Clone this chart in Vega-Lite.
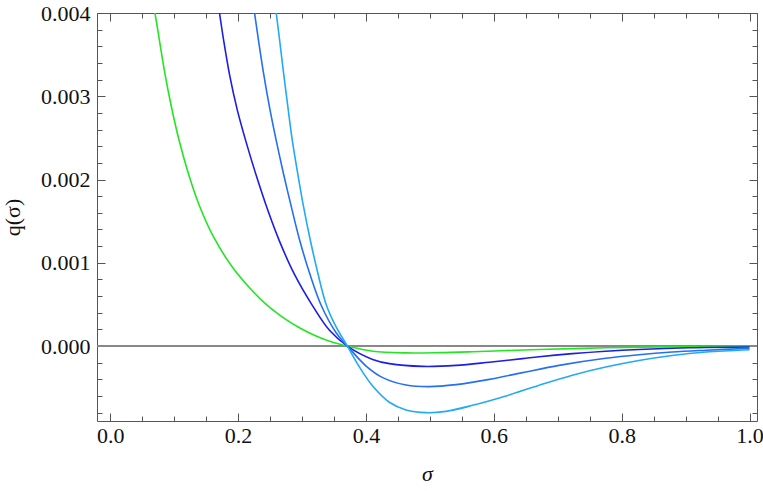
{
  "$schema": "https://vega.github.io/schema/vega-lite/v6.json",
  "width": 660,
  "height": 408,
  "autosize": {"type": "none"},
  "padding": {"left": 97, "top": 13, "right": 6, "bottom": 70},
  "background": "white",
  "config": {
    "view": {"stroke": null},
    "axis": {
      "domainColor": "#555555",
      "tickColor": "#555555",
      "labelFont": "Liberation Serif, Times New Roman, Times, serif",
      "labelFontSize": 22,
      "labelColor": "#111111",
      "titleFont": "Liberation Serif, Times New Roman, Times, serif",
      "titleFontSize": 22,
      "titleFontWeight": "normal",
      "titleColor": "#111111",
      "grid": false,
      "labelOverlap": false,
      "labelFlush": false
    }
  },
  "datasets": {
    "curves": [
      {"s": "a", "sigma": 0.063, "q": 0.00427},
      {"s": "a", "sigma": 0.070, "q": 0.00400},
      {"s": "a", "sigma": 0.0773, "q": 0.00366},
      {"s": "a", "sigma": 0.0852, "q": 0.00329},
      {"s": "a", "sigma": 0.0956, "q": 0.00288},
      {"s": "a", "sigma": 0.1075, "q": 0.00248},
      {"s": "a", "sigma": 0.1216, "q": 0.00209},
      {"s": "a", "sigma": 0.1388, "q": 0.00170},
      {"s": "a", "sigma": 0.1617, "q": 0.00131},
      {"s": "a", "sigma": 0.1919, "q": 0.00094},
      {"s": "a", "sigma": 0.218, "q": 0.00070},
      {"s": "a", "sigma": 0.244, "q": 0.00050},
      {"s": "a", "sigma": 0.270, "q": 0.000345},
      {"s": "a", "sigma": 0.296, "q": 0.00022},
      {"s": "a", "sigma": 0.322, "q": 0.00012},
      {"s": "a", "sigma": 0.348, "q": 0.000045},
      {"s": "a", "sigma": 0.371, "q": 0},
      {"s": "a", "sigma": 0.4106, "q": -0.000062},
      {"s": "a", "sigma": 0.4628, "q": -0.000082},
      {"s": "a", "sigma": 0.5148, "q": -0.000079},
      {"s": "a", "sigma": 0.567, "q": -0.000068},
      {"s": "a", "sigma": 0.619, "q": -0.000054},
      {"s": "a", "sigma": 0.671, "q": -0.000041},
      {"s": "a", "sigma": 0.775, "q": -0.000021},
      {"s": "a", "sigma": 0.879, "q": -0.000008},
      {"s": "a", "sigma": 1.0, "q": -0.000002},

      {"s": "b", "sigma": 0.163, "q": 0.00440},
      {"s": "b", "sigma": 0.171, "q": 0.00400},
      {"s": "b", "sigma": 0.1773, "q": 0.00368},
      {"s": "b", "sigma": 0.1867, "q": 0.00326},
      {"s": "b", "sigma": 0.1987, "q": 0.00284},
      {"s": "b", "sigma": 0.2130, "q": 0.00244},
      {"s": "b", "sigma": 0.2284, "q": 0.00205},
      {"s": "b", "sigma": 0.2466, "q": 0.00163},
      {"s": "b", "sigma": 0.2648, "q": 0.00126},
      {"s": "b", "sigma": 0.2883, "q": 0.00086},
      {"s": "b", "sigma": 0.3169, "q": 0.00048},
      {"s": "b", "sigma": 0.343, "q": 0.00019},
      {"s": "b", "sigma": 0.371, "q": 0},
      {"s": "b", "sigma": 0.4106, "q": -0.00016},
      {"s": "b", "sigma": 0.4367, "q": -0.000211},
      {"s": "b", "sigma": 0.4888, "q": -0.000244},
      {"s": "b", "sigma": 0.541, "q": -0.000232},
      {"s": "b", "sigma": 0.593, "q": -0.000194},
      {"s": "b", "sigma": 0.645, "q": -0.000151},
      {"s": "b", "sigma": 0.671, "q": -0.000128},
      {"s": "b", "sigma": 0.723, "q": -0.000091},
      {"s": "b", "sigma": 0.775, "q": -0.000062},
      {"s": "b", "sigma": 0.827, "q": -0.000041},
      {"s": "b", "sigma": 0.905, "q": -0.000021},
      {"s": "b", "sigma": 1.0, "q": -0.000012},

      {"s": "c", "sigma": 0.219, "q": 0.00435},
      {"s": "c", "sigma": 0.2258, "q": 0.00400},
      {"s": "c", "sigma": 0.2320, "q": 0.00367},
      {"s": "c", "sigma": 0.2398, "q": 0.00328},
      {"s": "c", "sigma": 0.2492, "q": 0.00287},
      {"s": "c", "sigma": 0.2597, "q": 0.00247},
      {"s": "c", "sigma": 0.2711, "q": 0.00207},
      {"s": "c", "sigma": 0.2831, "q": 0.00168},
      {"s": "c", "sigma": 0.2961, "q": 0.00128},
      {"s": "c", "sigma": 0.3117, "q": 0.00088},
      {"s": "c", "sigma": 0.3300, "q": 0.00049},
      {"s": "c", "sigma": 0.3534, "q": 0.00016},
      {"s": "c", "sigma": 0.371, "q": 0},
      {"s": "c", "sigma": 0.4003, "q": -0.00024},
      {"s": "c", "sigma": 0.4263, "q": -0.000379},
      {"s": "c", "sigma": 0.4628, "q": -0.000468},
      {"s": "c", "sigma": 0.4992, "q": -0.000487},
      {"s": "c", "sigma": 0.541, "q": -0.000463},
      {"s": "c", "sigma": 0.593, "q": -0.000400},
      {"s": "c", "sigma": 0.645, "q": -0.000319},
      {"s": "c", "sigma": 0.702, "q": -0.000232},
      {"s": "c", "sigma": 0.775, "q": -0.000147},
      {"s": "c", "sigma": 0.827, "q": -0.000104},
      {"s": "c", "sigma": 0.879, "q": -0.000072},
      {"s": "c", "sigma": 0.932, "q": -0.000050},
      {"s": "c", "sigma": 1.0, "q": -0.000026},

      {"s": "d", "sigma": 0.255, "q": 0.00430},
      {"s": "d", "sigma": 0.2597, "q": 0.00400},
      {"s": "d", "sigma": 0.2651, "q": 0.00367},
      {"s": "d", "sigma": 0.2712, "q": 0.00328},
      {"s": "d", "sigma": 0.2778, "q": 0.00288},
      {"s": "d", "sigma": 0.2847, "q": 0.00248},
      {"s": "d", "sigma": 0.2934, "q": 0.00207},
      {"s": "d", "sigma": 0.3023, "q": 0.00168},
      {"s": "d", "sigma": 0.3128, "q": 0.00128},
      {"s": "d", "sigma": 0.3247, "q": 0.00088},
      {"s": "d", "sigma": 0.3378, "q": 0.00050},
      {"s": "d", "sigma": 0.3534, "q": 0.00023},
      {"s": "d", "sigma": 0.371, "q": 0},
      {"s": "d", "sigma": 0.3898, "q": -0.00025},
      {"s": "d", "sigma": 0.4106, "q": -0.00048},
      {"s": "d", "sigma": 0.4367, "q": -0.000675},
      {"s": "d", "sigma": 0.4628, "q": -0.000768},
      {"s": "d", "sigma": 0.494, "q": -0.00080},
      {"s": "d", "sigma": 0.525, "q": -0.000784},
      {"s": "d", "sigma": 0.567, "q": -0.000712},
      {"s": "d", "sigma": 0.619, "q": -0.00060},
      {"s": "d", "sigma": 0.671, "q": -0.00047},
      {"s": "d", "sigma": 0.723, "q": -0.000350},
      {"s": "d", "sigma": 0.775, "q": -0.000252},
      {"s": "d", "sigma": 0.827, "q": -0.000173},
      {"s": "d", "sigma": 0.879, "q": -0.000113},
      {"s": "d", "sigma": 0.932, "q": -0.000072},
      {"s": "d", "sigma": 1.0, "q": -0.000044}
    ]
  },
  "data": {"name": "curves"},
  "resolve": {"axis": {"x": "independent", "y": "independent"}},
  "layer": [
    {
      "mark": {"type": "rule", "color": "#888888", "strokeWidth": 1.2},
      "encoding": {
        "y": {"datum": 0, "type": "quantitative", "axis": null,
              "scale": {"domain": [-0.0009, 0.004], "nice": false, "zero": false}}
      }
    },
    {
      "mark": {"type": "line", "clip": true, "strokeWidth": 1.6, "interpolate": "catmull-rom"},
      "encoding": {
        "x": {
          "field": "sigma", "type": "quantitative",
          "scale": {"domain": [-0.0206, 1.0117], "nice": false, "zero": false},
          "axis": {
            "orient": "bottom",
            "title": "σ",
            "titleFontStyle": "italic",
            "titlePadding": 14,
            "values": [0, 0.05, 0.1, 0.15, 0.2, 0.25, 0.3, 0.35, 0.4, 0.45, 0.5, 0.55, 0.6, 0.65, 0.7, 0.75, 0.8, 0.85, 0.9, 0.95, 1.0],
            "labelExpr": "abs(datum.value*5 - round(datum.value*5)) < 1e-6 ? format(datum.value, '.1f') : ''",
            "tickSize": {"condition": {"test": "abs(datum.value*5 - round(datum.value*5)) < 1e-6", "value": -8}, "value": -5},
            "labelPadding": 12
          }
        },
        "y": {
          "field": "q", "type": "quantitative",
          "scale": {"domain": [-0.0009, 0.004], "nice": false, "zero": false},
          "axis": {
            "orient": "left",
            "title": "q(σ)",
            "titlePadding": 16,
            "values": [-0.0008, -0.0006, -0.0004, -0.0002, 0, 0.0002, 0.0004, 0.0006, 0.0008, 0.001, 0.0012, 0.0014, 0.0016, 0.0018, 0.002, 0.0022, 0.0024, 0.0026, 0.0028, 0.003, 0.0032, 0.0034, 0.0036, 0.0038, 0.004],
            "labelExpr": "abs(datum.value*1000 - round(datum.value*1000)) < 1e-6 ? format(datum.value, '.3f') : ''",
            "tickSize": {"condition": {"test": "abs(datum.value*1000 - round(datum.value*1000)) < 1e-6", "value": -8}, "value": -5},
            "labelPadding": 15
          }
        },
        "color": {
          "field": "s", "type": "nominal", "legend": null,
          "scale": {"domain": ["a", "b", "c", "d"], "range": ["#22e622", "#1c1ceb", "#2470f2", "#22aaf5"]}
        }
      }
    },
    {
      "mark": {"type": "point", "opacity": 0, "clip": true},
      "encoding": {
        "x": {
          "field": "sigma", "type": "quantitative",
          "scale": {"domain": [-0.0206, 1.0117], "nice": false, "zero": false},
          "axis": {
            "orient": "top", "title": null, "labels": false,
            "values": [0, 0.05, 0.1, 0.15, 0.2, 0.25, 0.3, 0.35, 0.4, 0.45, 0.5, 0.55, 0.6, 0.65, 0.7, 0.75, 0.8, 0.85, 0.9, 0.95, 1.0],
            "tickSize": {"condition": {"test": "abs(datum.value*5 - round(datum.value*5)) < 1e-6", "value": -8}, "value": -5}
          }
        },
        "y": {
          "field": "q", "type": "quantitative",
          "scale": {"domain": [-0.0009, 0.004], "nice": false, "zero": false},
          "axis": {
            "orient": "right", "title": null, "labels": false,
            "values": [-0.0008, -0.0006, -0.0004, -0.0002, 0, 0.0002, 0.0004, 0.0006, 0.0008, 0.001, 0.0012, 0.0014, 0.0016, 0.0018, 0.002, 0.0022, 0.0024, 0.0026, 0.0028, 0.003, 0.0032, 0.0034, 0.0036, 0.0038, 0.004],
            "tickSize": {"condition": {"test": "abs(datum.value*1000 - round(datum.value*1000)) < 1e-6", "value": -8}, "value": -5}
          }
        }
      }
    }
  ]
}
